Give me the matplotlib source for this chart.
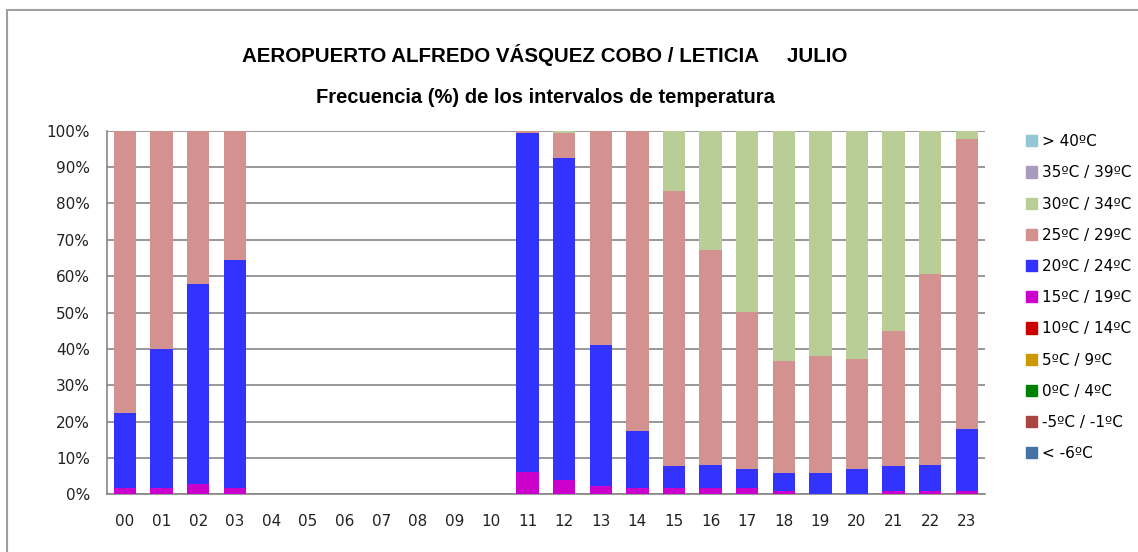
import numpy as np
import matplotlib.pyplot as plt
from matplotlib.patches import Patch, Rectangle
from matplotlib.ticker import PercentFormatter

hours = ["%02d" % h for h in range(24)]
labels = ["< -6ºC", "-5ºC / -1ºC", "0ºC / 4ºC", "5ºC / 9ºC", "10ºC / 14ºC",
          "15ºC / 19ºC", "20ºC / 24ºC", "25ºC / 29ºC", "30ºC / 34ºC",
          "35ºC / 39ºC", "> 40ºC"]
colors = ["#4572A7", "#A94442", "#008000", "#CC9900", "#CC0000",
          "#CC00CC", "#3333FF", "#D39190", "#B9CD96", "#A99BBD", "#93C6D6"]

zero = [0.0] * 24
t15_19 = [1.6, 1.6, 2.8, 1.6, 0, 0, 0, 0, 0, 0, 0, 6.2, 3.9, 2.4, 1.6, 1.6,
          1.6, 1.6, 0.8, 0, 0, 0.8, 0.8, 0.8]
t20_24 = [20.9, 38.5, 55.1, 62.8, 0, 0, 0, 0, 0, 0, 0, 93.3, 88.7, 38.6, 15.8,
          6.2, 6.6, 5.5, 5.1, 5.9, 7.1, 7.0, 7.4, 17.1]
t25_29 = [77.5, 59.9, 42.1, 35.6, 0, 0, 0, 0, 0, 0, 0, 0.5, 6.9, 59.0, 82.6,
          75.5, 58.9, 43.0, 30.9, 32.2, 30.0, 37.0, 52.4, 79.7]
t30_34 = [0, 0, 0, 0, 0, 0, 0, 0, 0, 0, 0, 0, 0.5, 0, 0, 16.7, 32.9, 49.9,
          63.2, 61.9, 62.9, 55.2, 39.4, 2.4]

series = [zero, zero, zero, zero, zero, t15_19, t20_24, t25_29, t30_34, zero, zero]

fig = plt.figure(figsize=(11.38, 5.52), dpi=100)
ax = fig.add_axes([0.0938, 0.1045, 0.7718, 0.6587])

x = np.arange(len(hours))
bottom = np.zeros(len(hours))
for vals, c in zip(series, colors):
    vals = np.array(vals)
    ax.bar(x, vals, 0.61, bottom=bottom, color=c, zorder=3)
    bottom += vals

ax.set_xlim(-0.5, 23.5)
ax.set_ylim(0, 100)
ax.set_yticks(np.arange(0, 101, 10))
ax.yaxis.set_major_formatter(PercentFormatter(decimals=0))
ax.set_xticks(x)
ax.set_xticklabels(hours)
ax.grid(axis="y", color="#868686", linewidth=1.2, zorder=0)
for s in ["top", "right"]:
    ax.spines[s].set_visible(False)
for s in ["left", "bottom"]:
    ax.spines[s].set_color("#868686")
    ax.spines[s].set_linewidth(1.2)
ax.tick_params(length=0, labelsize=11, colors="#222222")
ax.tick_params(axis="x", pad=14)
ax.tick_params(axis="y", pad=12)

fig.text(0.479, 0.9, "AEROPUERTO ALFREDO VÁSQUEZ COBO / LETICIA     JULIO",
         ha="center", va="center", fontsize=14.8, fontweight="bold",
         family="Liberation Sans")
fig.text(0.479, 0.824, "Frecuencia (%) de los intervalos de temperatura",
         ha="center", va="center", fontsize=14.5, fontweight="bold",
         family="Liberation Sans")

handles = [Patch(facecolor=c, edgecolor=c) for c in colors][::-1]
fig.legend(handles, labels[::-1], loc="upper left", bbox_to_anchor=(0.896, 0.768),
           frameon=False, fontsize=11, handlelength=0.75, handleheight=0.75,
           handletextpad=0.3, labelspacing=1.06, borderaxespad=0)

fig.add_artist(Rectangle((0.0062, -0.1), 1.2, 1.082, transform=fig.transFigure,
                         fill=False, edgecolor="#A0A0A0", linewidth=1.5))

fig.savefig("out.png", dpi=100)
